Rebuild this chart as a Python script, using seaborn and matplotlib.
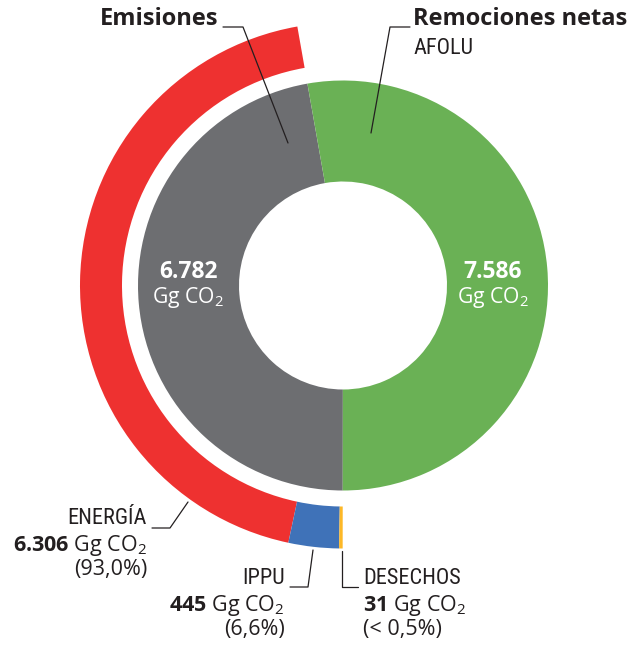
import matplotlib
matplotlib.use("Agg")
import matplotlib.pyplot as plt
import seaborn as sns

# Data (Gg CO2)
inner_labels = ["Emisiones", "Remociones netas"]
inner_values = [6782, 7586]
sector_labels = ["ENERGÍA", "IPPU", "DESECHOS"]
sector_values = [6306, 445, 31]
sector_shares = ["(93,0%)", "(6,6%)", "(< 0,5%)"]

inner_colors = ["#6D6E71", "#6AB155"]
sector_colors = ["#EE3130", "#3F72B8", "#FDB827"]

sns.set_theme(style="white")
plt.rcParams["font.family"] = ["Open Sans", "DejaVu Sans"]
plt.rcParams["mathtext.fontset"] = "custom"
plt.rcParams["mathtext.rm"] = "Open Sans"
plt.rcParams["mathtext.bf"] = "Open Sans:bold"
plt.rcParams["mathtext.it"] = "Open Sans:italic"

W, H = 641, 645
fig = plt.figure(figsize=(W / 100, H / 100), dpi=100)
ax = fig.add_axes([0, 0, 1, 1])


def Y(y):
    # pixel row from the top -> data y
    return H - y


cx, cy = 343, Y(285.5)
start = 100

# inner donut: emissions vs net removals
ax.pie(inner_values, colors=inner_colors, startangle=start, counterclock=True,
       center=(cx, cy), radius=205, wedgeprops=dict(width=101, linewidth=0),
       frame=True)

# outer ring: emissions by sector, rest left empty
outer_values = sector_values + [inner_values[1]]
outer_colors = sector_colors + ["none"]
ax.pie(outer_values, colors=outer_colors, startangle=start, counterclock=True,
       center=(cx, cy), radius=263, wedgeprops=dict(width=42, linewidth=0),
       frame=True)
ax.set_xlim(0, W)
ax.set_ylim(0, H)
ax.set_aspect("equal")
ax.axis("off")

dark = "#231F20"
narrow = ["Roboto Condensed", "DejaVu Sans"]
big = 17
mid = 15.5
cap = 16


def fmt(v):
    return f"{v:,}".replace(",", ".")


# values inside the inner donut
for x, v in [(188, inner_values[0]), (493, inner_values[1])]:
    ax.text(x, Y(272), fmt(v), color="white", fontsize=16.5, fontweight="bold",
            ha="center", va="center")
    ax.text(x, Y(298), "Gg CO$_2$", color="white", fontsize=15.2,
            ha="center", va="center")

# titles and leader lines
ax.text(218, Y(19), inner_labels[0], color=dark, fontsize=big, fontweight="bold",
        ha="right", va="center")
ax.plot([223, 243, 288], [Y(27), Y(27), Y(143)], color=dark, lw=0.9)

ax.text(413, Y(19), inner_labels[1], color=dark, fontsize=big, fontweight="bold",
        ha="left", va="center")
ax.text(413, Y(48), "AFOLU", color=dark, fontsize=cap, family=narrow,
        fontweight="normal", ha="left", va="center")
ax.plot([410, 390, 371], [Y(27), Y(27), Y(133)], color=dark, lw=0.9)

# sector labels
ax.text(147, Y(519), sector_labels[0], color=dark, fontsize=cap, family=narrow,
        fontweight="normal", ha="right", va="center")
ax.text(147, Y(545), rf"$\mathbf{{{fmt(sector_values[0])}}}$ Gg CO$_2$",
        color=dark, fontsize=mid, ha="right", va="center")
ax.text(147, Y(570), sector_shares[0], color=dark, fontsize=mid,
        ha="right", va="center")
ax.plot([152, 170, 188], [Y(528), Y(528), Y(502)], color=dark, lw=0.9)

ax.text(285, Y(579), sector_labels[1], color=dark, fontsize=cap, family=narrow,
        fontweight="normal", ha="right", va="center")
ax.text(285, Y(605), rf"$\mathbf{{{fmt(sector_values[1])}}}$ Gg CO$_2$",
        color=dark, fontsize=mid, ha="right", va="center")
ax.text(285, Y(630), sector_shares[1], color=dark, fontsize=mid,
        ha="right", va="center")
ax.plot([290, 308, 313], [Y(587), Y(587), Y(550)], color=dark, lw=0.9)

ax.text(363, Y(579), sector_labels[2], color=dark, fontsize=cap, family=narrow,
        fontweight="normal", ha="left", va="center")
ax.text(363, Y(605), rf"$\mathbf{{{fmt(sector_values[2])}}}$ Gg CO$_2$",
        color=dark, fontsize=mid, ha="left", va="center")
ax.text(363, Y(630), sector_shares[2], color=dark, fontsize=mid,
        ha="left", va="center")
ax.plot([342, 342, 358], [Y(551), Y(587), Y(587)], color=dark, lw=0.9)

fig.savefig("out.png", dpi=100)
